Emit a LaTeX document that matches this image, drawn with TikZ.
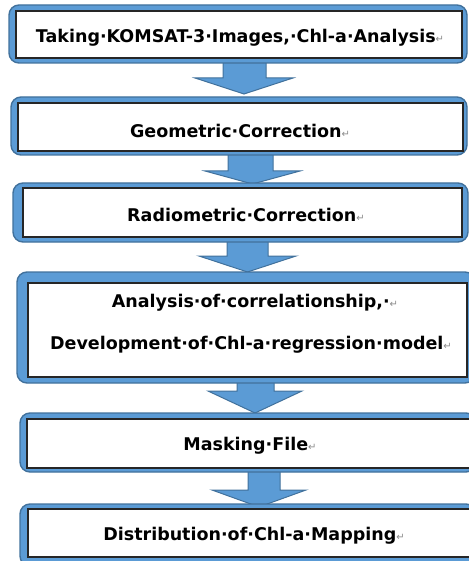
\documentclass[tikz,border=0pt]{standalone}
\usepackage{fontspec}
\setmainfont{DejaVu Sans}
\newfontfamily\retfont{DejaVu Sans}
\usetikzlibrary{calc}
\definecolor{bandblue}{HTML}{5B9BD5}
\definecolor{bandedge}{HTML}{41719C}
\definecolor{retgray}{HTML}{8C8C8C}
\newcommand{\rt}{{\retfont\mdseries\fontsize{10}{10}\selectfont\color{retgray}\raisebox{0.05ex}{↵}}}
\tikzset{
  outerbox/.style={fill=bandblue, draw=bandedge, line width=1.4pt, rounded corners=10pt},
  innerbox/.style={fill=white, draw=black!85, line width=1.2pt},
  blockarrow/.style={fill=bandblue, draw=bandedge, line width=1pt, line join=miter},
  steptext/.style={font=\fontsize{17.5}{21}\selectfont\bfseries, text=black, inner sep=0pt, align=center},
}
\begin{document}
\begin{tikzpicture}[x=1pt,y=-1pt]
\useasboundingbox (0,0) rectangle (468,561);
% block arrows (behind boxes)
\newcommand{\barrow}[7]{% shaft xl, xr, shaft top, head top, head xl, head xr, tip y
  \draw[blockarrow] (#1,#3) -- (#1,#4) -- (#5,#4) -- ({(#5+#6)/2},#7) -- (#6,#4) -- (#2,#4) -- (#2,#3);
}
\barrow{223}{266}{60}{78}{195}{293}{94}
\barrow{228}{273}{152}{171}{205}{300}{184}
\barrow{227}{268}{239}{256}{199}{296}{272}
\barrow{237}{274}{380}{391}{208}{302}{413}
\barrow{248}{280}{469}{490}{212}{306}{507}
% step boxes
\node[outerbox, minimum width=458pt, minimum height=58pt] (o1) at (238,34) {};
\node[innerbox, minimum width=446pt, minimum height=47pt] (i1) at (239,34.5) {};
\node[outerbox, minimum width=456pt, minimum height=58pt] (o2) at (239,126) {};
\node[innerbox, minimum width=445pt, minimum height=48pt] (i2) at (240.5,127) {};
\node[outerbox, minimum width=455pt, minimum height=59pt] (o3) at (240.5,212.5) {};
\node[innerbox, minimum width=439pt, minimum height=49pt] (i3) at (242.5,212.5) {};
\node[outerbox, minimum width=458pt, minimum height=111pt] (o4) at (246,327.5) {};
\node[innerbox, minimum width=439pt, minimum height=94pt] (i4) at (247.5,330) {};
\node[outerbox, minimum width=456pt, minimum height=59pt] (o5) at (248,442.5) {};
\node[innerbox, minimum width=443pt, minimum height=49pt] (i5) at (248.5,443.5) {};
\node[outerbox, minimum width=456pt, minimum height=62pt] (o6) at (248,535) {};
\node[innerbox, minimum width=442pt, minimum height=48pt] (i6) at (249,533) {};
% texts
\node[steptext] (t1) at (240,38) {Taking·KOMSAT-3·Images,·Chl-a·Analysis\rt};
\node[steptext] (t2) at (240,131) {Geometric·Correction\rt};
\node[steptext] (t3) at (246,215) {Radiometric·Correction\rt};
\node[steptext] (t4a) at (255,303) {Analysis·of·correlationship,·\rt};
\node[steptext] (t4b) at (251,345) {Development·of·Chl-a·regression·model\rt};
\node[steptext] (t5) at (250,446) {Masking·File\rt};
\node[steptext] (t6) at (254,536) {Distribution·of·Chl-a·Mapping\rt};
\end{tikzpicture}
\end{document}
